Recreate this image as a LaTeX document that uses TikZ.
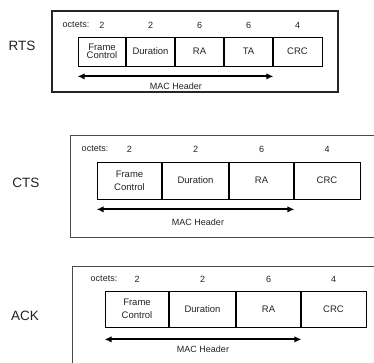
\documentclass[tikz,border=0pt]{standalone}
\usepackage{fontspec}
\setmainfont{Liberation Sans}
\usetikzlibrary{arrows.meta}
\definecolor{ink}{HTML}{222222}
\definecolor{frameline}{HTML}{4A4A4A}
\tikzset{
  frametype/.style={font=\fontsize{13.5}{15}\selectfont, text=ink},
  outerbox/.style={draw=frameline, line width=0.9pt},
  field/.style={draw=black, line width=0.7pt, inner sep=0pt, text=ink,
    font=\fontsize{9.5}{9}\selectfont, align=center},
  divider/.style={line width=1.8pt, black},
  small/.style={font=\fontsize{9}{10}\selectfont, text=ink, inner sep=0pt},
  hdr/.style={line width=1.8pt, black, {Latex[length=7pt,width=6.5pt]}-{Latex[length=7pt,width=6.5pt]}},
}
\begin{document}
\begin{tikzpicture}[x=1pt,y=-1pt]
\useasboundingbox (0,0) rectangle (374,362);
\clip (0,0) rectangle (374,362);

% ---------------- RTS ----------------
\node[frametype] (rts) at (22,46) {RTS};
\draw[outerbox, draw=black!85, line width=1.3pt] (52,11) rectangle (338,92);
\node[small] (rocts) at (76,25) {octets:};
\node[field, minimum width=48pt, minimum height=29pt, font=\fontsize{9.5}{8.5}\selectfont] (rfc) at (102,51.5) {Frame\\Control};
\node[field, minimum width=49pt, minimum height=29pt] (rdur) at (150.5,51.5) {Duration};
\node[field, minimum width=49pt, minimum height=29pt] (rra) at (199.5,51.5) {RA};
\node[field, minimum width=49pt, minimum height=29pt] (rta) at (248.5,51.5) {TA};
\node[field, minimum width=49pt, minimum height=29pt] (rcrc) at (297.5,51.5) {CRC};
\foreach \f/\n in {rfc/2, rdur/2, rra/6, rta/6, rcrc/4}
  \node[small] at ([yshift=26.5pt]\f.center) {\n};
\foreach \f in {rfc, rdur, rra, rta}
  \draw[divider] (\f.north east) -- (\f.south east);
\draw[hdr] ([yshift=-10pt]rfc.south west) -- ([yshift=-10pt]rta.south east);
\node[small] (rmac) at (176,86) {MAC Header};

% ---------------- CTS ----------------
\node[frametype] (cts) at (26,183) {CTS};
\draw[outerbox] (70,135) rectangle (390,237);
\node[small] (cocts) at (95,149) {octets:};
\node[field, minimum width=65pt, minimum height=37pt, font=\fontsize{9.5}{13}\selectfont] (cfc) at (129.5,180.5) {Frame\\Control};
\node[field, minimum width=67pt, minimum height=37pt] (cdur) at (195.5,180.5) {Duration};
\node[field, minimum width=65pt, minimum height=37pt] (cra) at (261.5,180.5) {RA};
\node[field, minimum width=66pt, minimum height=37pt] (ccrc) at (327,180.5) {CRC};
\foreach \f/\n in {cfc/2, cdur/2, cra/6, ccrc/4}
  \node[small] at ([yshift=31.5pt]\f.center) {\n};
\foreach \f in {cfc, cdur, cra}
  \draw[divider] (\f.north east) -- (\f.south east);
\draw[hdr] ([yshift=-10pt]cfc.south west) -- ([yshift=-10pt]cra.south east);
\node[small] (cmac) at (198,222) {MAC Header};

% ---------------- ACK ----------------
\node[frametype] (ack) at (25,316) {ACK};
\draw[outerbox] (72,266) rectangle (390,380);
\node[small] (aocts) at (104,279) {octets:};
\node[field, minimum width=64pt, minimum height=36pt, font=\fontsize{9.5}{13}\selectfont] (afc) at (137,309) {Frame\\Control};
\node[field, minimum width=67pt, minimum height=36pt] (adur) at (202.5,309) {Duration};
\node[field, minimum width=65pt, minimum height=36pt] (ara) at (268.5,309) {RA};
\node[field, minimum width=65pt, minimum height=36pt] (acrc) at (333.5,309) {CRC};
\foreach \f/\n in {afc/2, adur/2, ara/6, acrc/4}
  \node[small] at ([yshift=30pt]\f.center) {\n};
\foreach \f in {afc, adur, ara}
  \draw[divider] (\f.north east) -- (\f.south east);
\draw[hdr] ([yshift=-12pt]afc.south west) -- ([yshift=-12pt]ara.south east);
\node[small] (amac) at (203,349) {MAC Header};
\end{tikzpicture}
\end{document}
